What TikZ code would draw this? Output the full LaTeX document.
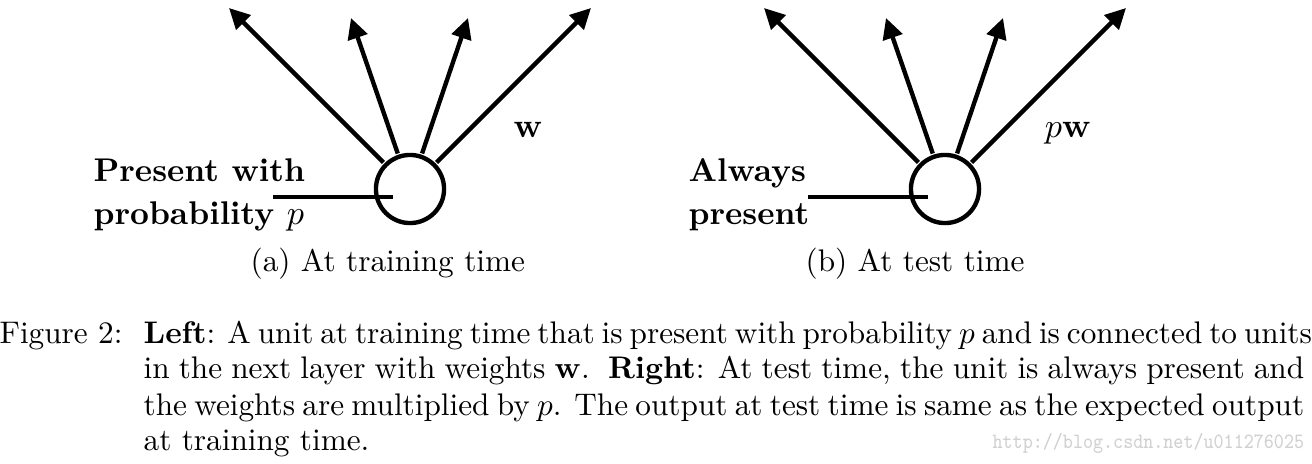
\documentclass[tikz,border=0pt]{standalone}
\usetikzlibrary{arrows.meta,calc}
\begin{document}
\begin{tikzpicture}[x=0.32pt,y=-0.32pt,
  unit/.style={draw,circle,line width=1.4pt,minimum size=21.8pt,inner sep=0pt,outer sep=1.1pt},
  outarr/.style={line width=1.4pt,-{Triangle[length=6.6pt,width=6.4pt]}},
  inline/.style={line width=1.55pt},
  lbl/.style={inner sep=0pt,anchor=base west,font=\fontsize{10.5}{12}\selectfont\bfseries},
  txt/.style={inner sep=0pt,anchor=base west}]
\useasboundingbox (0,0) rectangle (1312,463);

% ---------- left: training time ----------
\node[unit] (cL) at (410,189) {};
\coordinate (tL1) at ($(cL)+(-181,-181)$);
\coordinate (tL2) at ($(cL)+(-59,-171)$);
\coordinate (tL3) at ($(cL)+(58,-171)$);
\coordinate (tL4) at ($(cL)+(181,-181)$);
\draw[outarr] (cL) -- (tL1);
\draw[outarr] (cL) -- (tL2);
\draw[outarr] (cL) -- (tL3);
\draw[outarr] (cL) -- (tL4);
\coordinate (iL1) at ($(cL)+(-137,8)$);
\coordinate (iL2) at ($(cL)+(-17,8)$);
\draw[inline] (iL1) -- (iL2);
\node[lbl] (pL1) at (93,181) {Present with};
\node[lbl] (pL2) at (93,224) {probability $p$};
\node[inner sep=0pt,anchor=base,font=\fontsize{10.5}{12}\selectfont] (wL) at (528,137) {$\mathbf{w}$};
\node[txt] (capA) at (250,271) {(a) At training time};

% ---------- right: test time ----------
\node[unit] (cR) at (945,189) {};
\coordinate (tR1) at ($(cR)+(-181,-181)$);
\coordinate (tR2) at ($(cR)+(-59,-171)$);
\coordinate (tR3) at ($(cR)+(58,-171)$);
\coordinate (tR4) at ($(cR)+(181,-181)$);
\draw[outarr] (cR) -- (tR1);
\draw[outarr] (cR) -- (tR2);
\draw[outarr] (cR) -- (tR3);
\draw[outarr] (cR) -- (tR4);
\coordinate (iR1) at ($(cR)+(-137,8)$);
\coordinate (iR2) at ($(cR)+(-17,8)$);
\draw[inline] (iR1) -- (iR2);
\node[lbl] (pR1) at (688,181) {Always};
\node[lbl] (pR2) at (688,224) {present};
\node[inner sep=0pt,anchor=base,font=\fontsize{10.5}{12}\selectfont] (wR) at (1068,137) {$p\mathbf{w}$};
\node[txt] (capB) at (805,271) {(b) At test time};

% ---------- caption ----------
\node[txt] (fig) at (-1,343) {Figure 2:};
\node[txt] (c1) at (143,343) {\makebox[371.4pt][s]{\textbf{Left}: A unit at training time that is present with probability $p$ and is connected to units}};
\node[txt] (c2) at (143,378) {\makebox[371.4pt][s]{in the next layer with weights $\mathbf{w}$.\ \ \textbf{Right}: At test time, the unit is always present and}};
\node[txt] (c3) at (143,415) {\makebox[371.4pt][s]{the weights are multiplied by $p$. The output at test time is same as the expected output}};
\node[txt] (c4) at (143,450) {at training time.};

% ---------- watermark ----------
\node[txt,text=black!18] (wm) at (992,448) {\fontsize{7}{8}\ttfamily\scalebox{0.865}[1]{http://blog.csdn.net/u011276025}};
\end{tikzpicture}
\end{document}
